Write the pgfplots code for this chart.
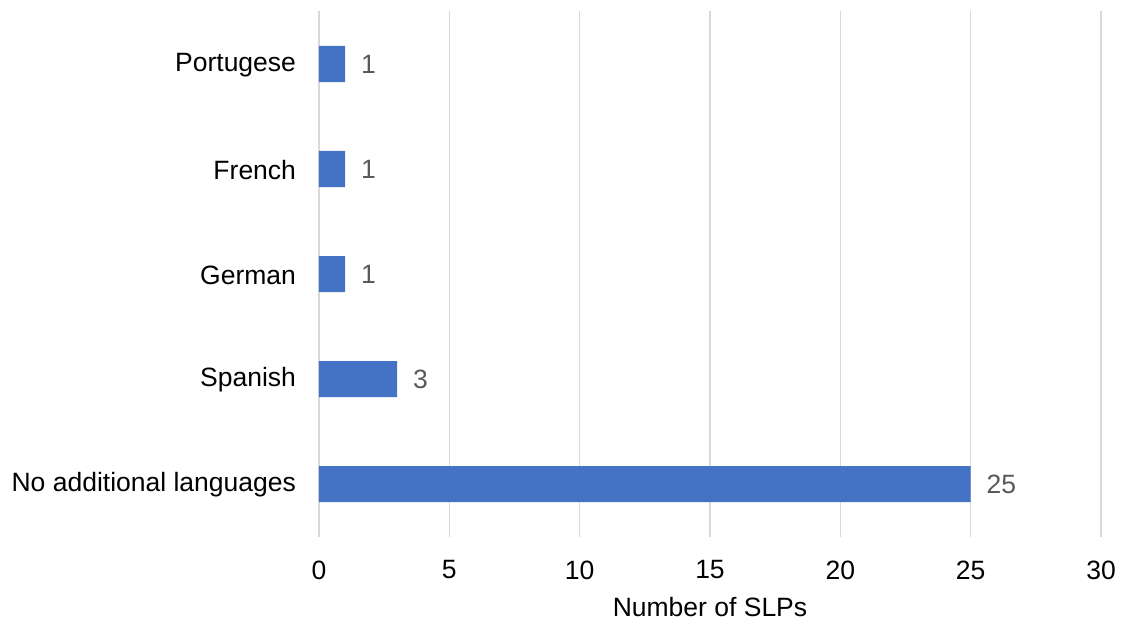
\documentclass[border=0pt]{standalone}
\usepackage{pgfplots}
\pgfplotsset{compat=1.18}
\usepackage{fontspec}
\setmainfont{Liberation Sans}
\definecolor{barblue}{HTML}{4472C4}
\definecolor{gridgray}{HTML}{D9D9D9}
\definecolor{labelgray}{HTML}{595959}
\begin{document}
\fontsize{26.5}{30}\selectfont
\begin{tikzpicture}
\begin{axis}[
    at={(0pt,0pt)}, anchor=south west,
    scale only axis,
    width=782pt, height=525pt,
    xmin=0, xmax=30, ymin=-0.5, ymax=4.5,
    xbar, bar width=36pt,
    axis line style={draw=none},
    xtick={0,5,...,30},
    ytick={0,...,4},
    yticklabels={No additional languages,Spanish,German,French,Portugese},
    xmajorgrids, grid style={gridgray, line width=1.2pt},
    major tick length=0pt,
    tick label style={font=\fontsize{26.5}{30}\selectfont},
    xticklabel style={yshift=-15pt},
    yticklabel style={xshift=-14pt, yshift=-1pt},
    /pgf/number format/assume math mode=true,
    nodes near coords,
    nodes near coords style={text=labelgray, font=\fontsize{26.5}{30}\selectfont, xshift=7pt},
    xlabel={Number of SLPs},
    xlabel style={at={(axis description cs:0.5,0)}, anchor=center, yshift=-71pt, font=\fontsize{26.5}{30}\selectfont},
]
\addplot[fill=barblue, draw=none] coordinates {(25,0) (3,1) (1,2) (1,3) (1,4)};
\end{axis}
\pgfresetboundingbox
\path (-319pt,-84.5pt) rectangle (802pt,536.5pt);
\end{tikzpicture}
\end{document}
